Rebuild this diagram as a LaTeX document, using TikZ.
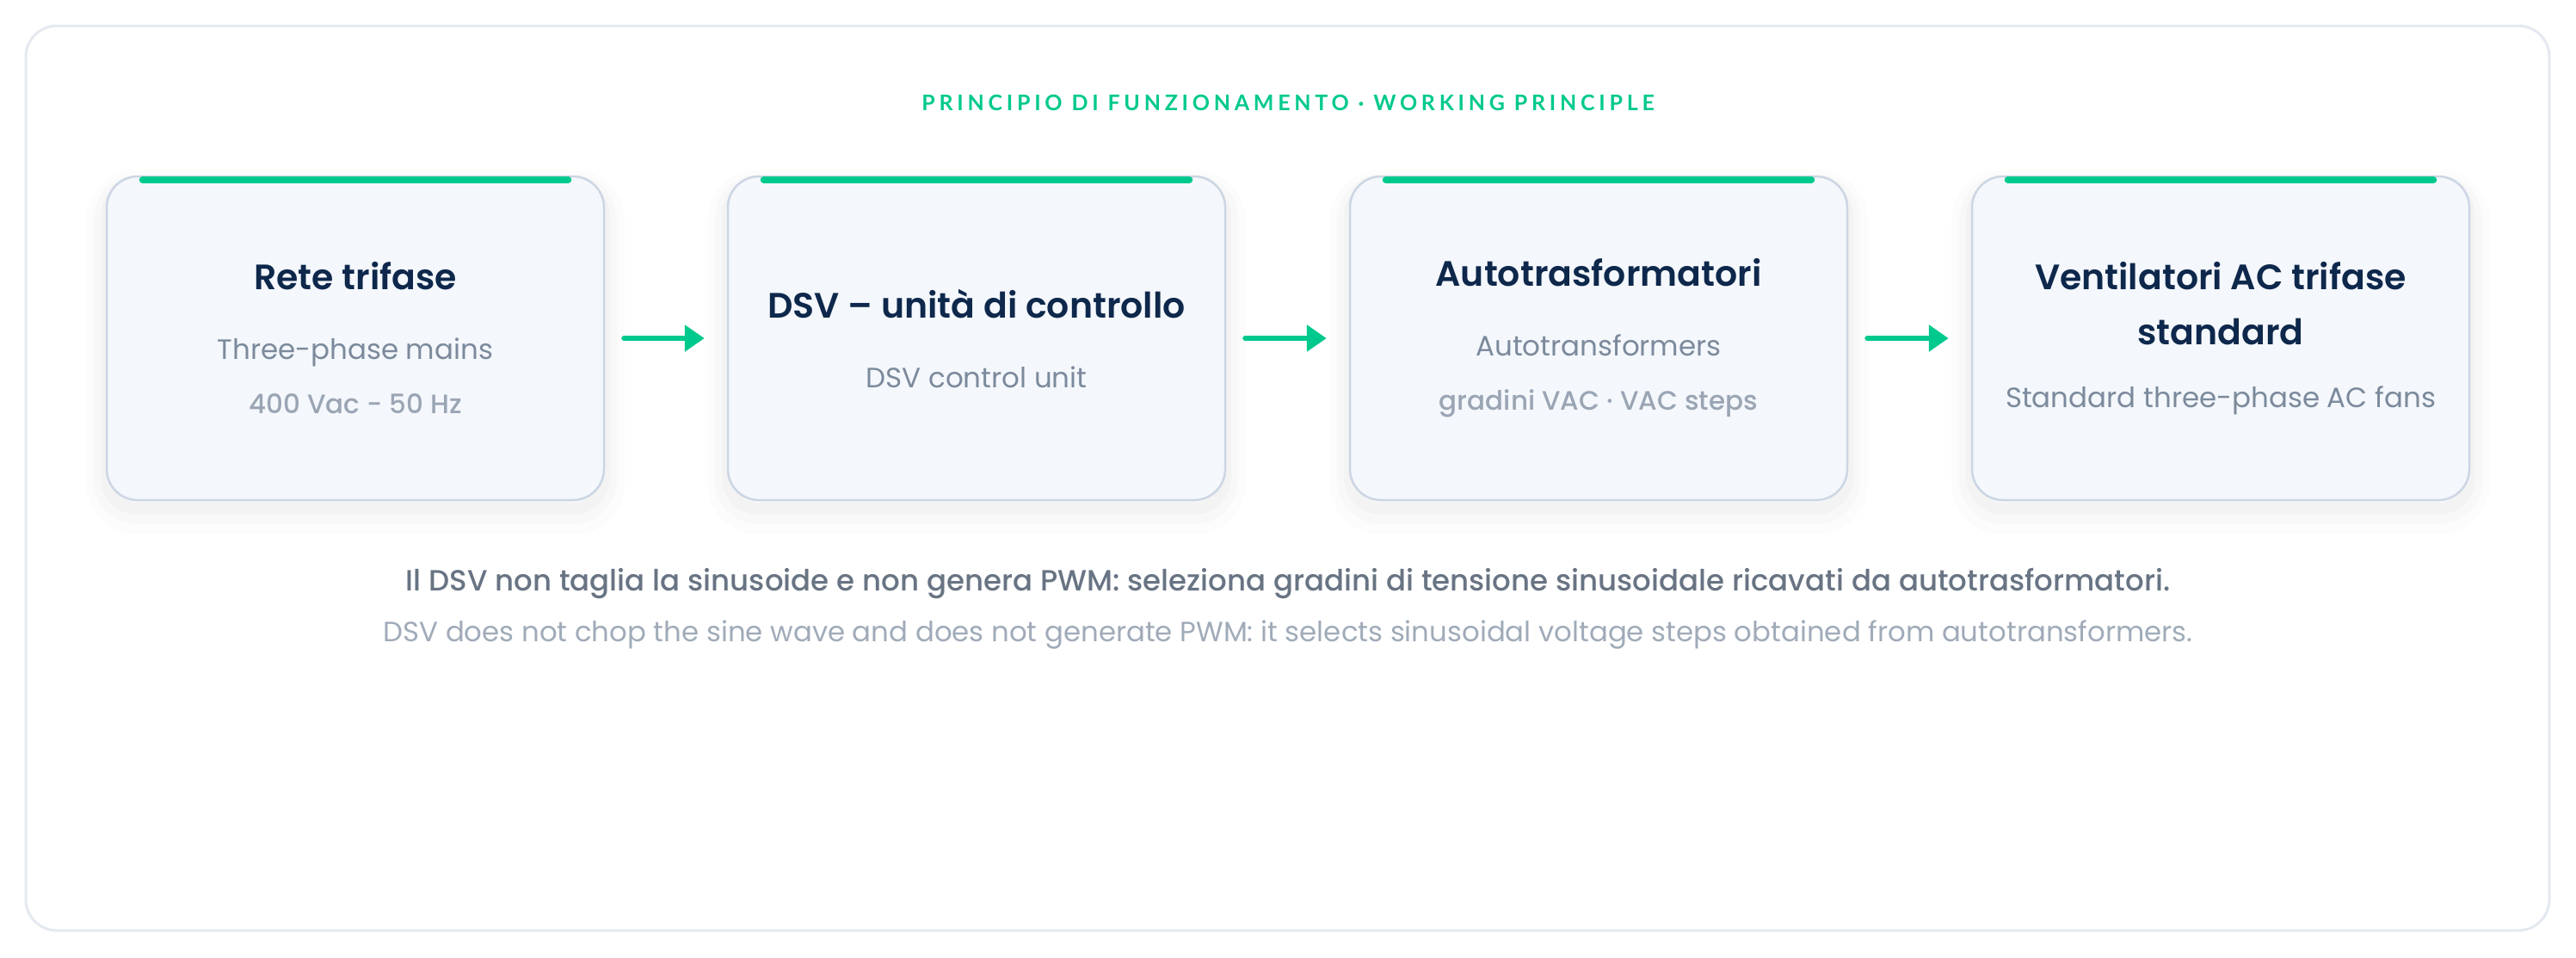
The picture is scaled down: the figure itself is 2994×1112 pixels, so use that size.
\documentclass[tikz,border=0pt]{standalone}
\usepackage{fontspec}
\setmainfont{Poppins}
\newfontfamily\titlefont{Poppins SemiBold}
\newfontfamily\mediumfont{Poppins Medium}
\newfontfamily\kickerfont[LetterSpace=19]{Lato}
\usetikzlibrary{arrows.meta}

\definecolor{accent}{RGB}{0,201,141}
\definecolor{navy}{RGB}{14,40,76}
\definecolor{subgray}{RGB}{123,138,156}
\definecolor{detailgray}{RGB}{154,165,180}
\definecolor{cardbg}{RGB}{244,247,251}
\definecolor{cardline}{RGB}{204,214,228}
\definecolor{frameline}{RGB}{228,232,240}
\definecolor{notedark}{RGB}{104,116,131}
\definecolor{notelight}{RGB}{160,171,185}

\newcommand{\cardtitle}[1]{{\fontsize{41}{56}\titlefont\color{navy}#1\par}}
\newcommand{\cardsub}[1]{{\fontsize{32.5}{73}\selectfont\color{subgray}#1\par}}
\newcommand{\carddetail}[1]{{\fontsize{31}{63}\mediumfont\color{detailgray}#1\par}}

\tikzset{
  card/.style={rounded corners=36pt, minimum width=578pt, minimum height=376pt,
    fill=cardbg, draw=cardline, line width=2.5pt, text width=540pt, align=flush center,
    execute at begin node={\vspace*{8pt}},
    preaction={draw=black, draw opacity=0.012, line width=48pt, transform canvas={yshift=-16pt}},
    preaction={draw=black, draw opacity=0.016, line width=30pt, transform canvas={yshift=-13pt}},
    preaction={draw=black, draw opacity=0.02, line width=14pt, transform canvas={yshift=-10pt}}},
  flow/.style={draw=accent, line width=6pt, line cap=round,
    -{Triangle[length=23pt,width=30pt]}, shorten <=22pt, shorten >=26pt},
  topbar/.style={draw=accent, line width=8pt, line cap=round}
}

\begin{document}
\begin{tikzpicture}[x=1pt,y=-1pt]
    \useasboundingbox (0,0) rectangle (2994,1112);
    \draw[frameline, fill=white, line width=3pt, rounded corners=36pt] (30,30) rectangle (2963,1081);

    \node[text=accent] (kicker) at (1497,119) {\kickerfont\bfseries\fontsize{25}{30}\selectfont PRINCIPIO DI FUNZIONAMENTO · WORKING PRINCIPLE};

    % the four stages
    \node[card] (mains) at (413,393) {\cardtitle{Rete trifase}\cardsub{Three-phase mains}\carddetail{400 Vac - 50 Hz}};
    \node[card] (dsv) at (1135,393) {\cardtitle{DSV – unità di controllo}\cardsub{DSV control unit}};
    \node[card] (autotr) at (1858,393) {\cardtitle{Autotrasformatori}\cardsub{Autotransformers}\carddetail{gradini VAC · VAC steps}};
    \node[card] (fans) at (2581,393) {\cardtitle{Ventilatori AC trifase}\cardtitle{standard}\cardsub{Standard three-phase AC fans}};

    \foreach \c in {mains,dsv,autotr,fans}
      \draw[topbar] ([xshift=43pt,yshift=-5pt]\c.north west) -- ([xshift=-43pt,yshift=-5pt]\c.north east);

    \draw[flow] (mains) -- (dsv);
    \draw[flow] (dsv) -- (autotr);
    \draw[flow] (autotr) -- (fans);

    \node[text=notedark] (note) at (1497,678) {\mediumfont\fontsize{34}{40}\selectfont Il DSV non taglia la sinusoide e non genera PWM: seleziona gradini di tensione sinusoidale ricavati da autotrasformatori.};
    \node[text=notelight] (noteen) at (1497,737) {\fontsize{32.4}{40}\selectfont DSV does not chop the sine wave and does not generate PWM: it selects sinusoidal voltage steps obtained from autotransformers.};
 \end{tikzpicture}
\end{document}
